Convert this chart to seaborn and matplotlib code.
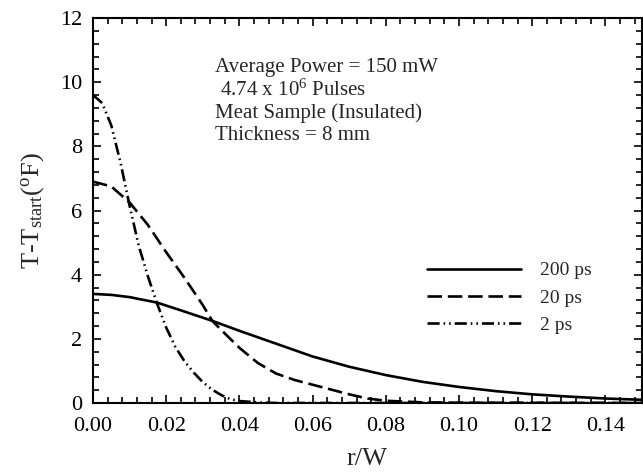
import matplotlib
matplotlib.use("Agg")
import matplotlib.pyplot as plt
import seaborn as sns
import pandas as pd
from matplotlib.ticker import MultipleLocator, FormatStrFormatter

# ---- data ----
r_200 = [0.0, 0.005, 0.01, 0.0175, 0.025, 0.0326, 0.04, 0.05, 0.06, 0.07, 0.08,
         0.09, 0.10, 0.11, 0.12, 0.13, 0.14, 0.15]
t_200 = [3.40, 3.37, 3.30, 3.13, 2.85, 2.56, 2.25, 1.85, 1.45, 1.13, 0.87,
         0.66, 0.50, 0.37, 0.27, 0.20, 0.14, 0.10]

r_20 = [0.0, 0.005, 0.01, 0.015, 0.02, 0.025, 0.03, 0.0326, 0.035, 0.04, 0.045,
        0.05, 0.055, 0.06, 0.065, 0.07, 0.075, 0.08, 0.09, 0.10, 0.15]
t_20 = [6.90, 6.75, 6.25, 5.55, 4.70, 3.90, 3.05, 2.56, 2.28, 1.72, 1.25,
        0.92, 0.72, 0.57, 0.42, 0.27, 0.14, 0.07, 0.02, 0.01, 0.0]

r_2 = [0.0, 0.0025, 0.005, 0.0075, 0.01, 0.0125, 0.015, 0.0175, 0.02, 0.0225,
       0.025, 0.0275, 0.03, 0.0325, 0.035, 0.0375, 0.04, 0.045, 0.05, 0.15]
t_2 = [9.60, 9.35, 8.65, 7.50, 6.15, 4.90, 3.95, 3.10, 2.35, 1.75,
       1.30, 0.95, 0.65, 0.42, 0.25, 0.12, 0.06, 0.02, 0.0, 0.0]

labels = ["200 ps", "20 ps", "2 ps"]
annotation = ["Average Power = 150 mW",
              r" 4.74 x 10$^{6}$ Pulses",
              "Meat Sample (Insulated)",
              "Thickness = 8 mm"]

sns.set_style("ticks")
plt.rcParams["font.family"] = ["Liberation Serif", "DejaVu Serif"]
plt.rcParams["mathtext.fontset"] = "custom"
plt.rcParams["mathtext.rm"] = "Liberation Serif"
plt.rcParams["mathtext.it"] = "Liberation Serif"
plt.rcParams["mathtext.default"] = "rm"

W, H = 643, 475
fig = plt.figure(figsize=(W / 100, H / 100), dpi=100)
ax = fig.add_axes([93 / W, (H - 403) / H, 549 / W, 385 / H])

styles = [
    dict(linestyle="-"),
    dict(linestyle=(0, (5.5, 2.2))),
    dict(linestyle=(0, (4.6, 1.5, 0.6, 1.5, 0.6, 1.5))),
]
for rr, tt, lab, st in zip([r_200, r_20, r_2], [t_200, t_20, t_2], labels, styles):
    df = pd.DataFrame({"r": rr, "T": tt})
    sns.lineplot(data=df, x="r", y="T", ax=ax, color="black", linewidth=1.9,
                 label=lab, **st)

ax.set_xlim(0, 0.15)
ax.set_ylim(0, 12)
ax.xaxis.set_major_locator(MultipleLocator(0.02))
ax.xaxis.set_minor_locator(MultipleLocator(0.004))
ax.yaxis.set_major_locator(MultipleLocator(2))
ax.yaxis.set_minor_locator(MultipleLocator(0.4))
ax.xaxis.set_major_formatter(FormatStrFormatter("%.2f"))
ax.tick_params(which="both", direction="in", top=True, right=True,
               labelsize=16, width=1.2, colors="black")
ax.tick_params(which="major", length=6)
ax.tick_params(which="minor", length=4)
ax.tick_params(axis="x", which="major", pad=10)
ax.tick_params(axis="y", which="major", pad=8)
for sp in ax.spines.values():
    sp.set_linewidth(1.5)
    sp.set_color("black")

ax.set_xlabel("r/W", fontsize=19, labelpad=9)
ax.set_ylabel(r"T-T$_{\mathrm{start}}$($^{\mathrm{o}}$F)", fontsize=19, labelpad=10)

ax.text(0.222, 0.897, "\n".join(annotation), transform=ax.transAxes,
        fontsize=15, va="top", ha="left", linespacing=1.18)

leg = ax.legend(loc="upper left", bbox_to_anchor=(0.577, 0.412), frameon=False,
                fontsize=14, handlelength=4.8, handletextpad=1.0,
                labelspacing=0.5)

fig.savefig("out.png", dpi=100)
